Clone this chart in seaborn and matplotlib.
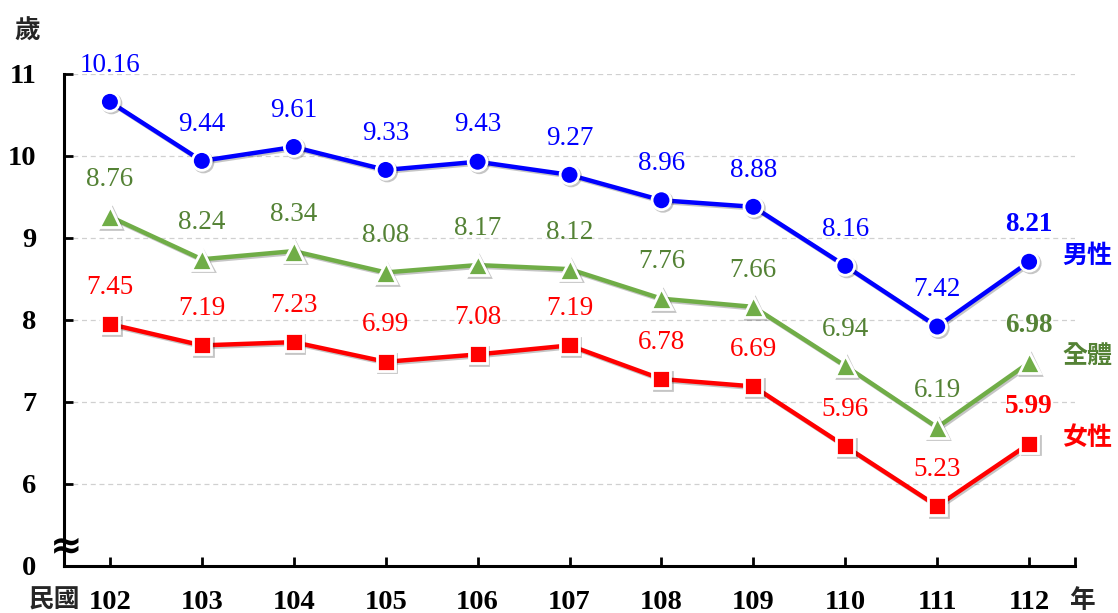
import matplotlib
matplotlib.use('Agg')
import matplotlib.pyplot as plt
import matplotlib.patheffects as pe
import seaborn as sns

# data
years = [102, 103, 104, 105, 106, 107, 108, 109, 110, 111, 112]
male = [10.16, 9.44, 9.61, 9.33, 9.43, 9.27, 8.96, 8.88, 8.16, 7.42, 8.21]
total = [8.76, 8.24, 8.34, 8.08, 8.17, 8.12, 7.76, 7.66, 6.94, 6.19, 6.98]
female = [7.45, 7.19, 7.23, 6.99, 7.08, 7.19, 6.78, 6.69, 5.96, 5.23, 5.99]
series_names = ['男性', '全體', '女性']
# the source axis is labelled half a unit off from the plotted values
y_tick_pos = [4.5, 5.5, 6.5, 7.5, 8.5, 9.5, 10.5]
y_tick_labels = ['0', '6', '7', '8', '9', '10', '11']

sns.set_theme(style='white')
plt.rcParams['font.family'] = ['Liberation Serif', 'Noto Sans CJK TC', 'DejaVu Sans']

fig = plt.figure(figsize=(11.18, 6.13), dpi=100)
ax = fig.add_axes([0.0572, 0.0767, 0.9044, 0.8026])

# grid lines
for y in y_tick_pos[1:]:
    ax.axhline(y, color='#d0d0d0', lw=0.9, ls=(0, (4, 3)), zorder=0)

shadow = [pe.SimpleLineShadow(offset=(1.2, -1.2), alpha=0.25), pe.Normal()]
styles = [
    (male, '#0000FF', '#0000FF', 'o', 13.5),
    (total, '#70AD47', '#548235', '^', 15),
    (female, '#FF0000', '#FF0000', 's', 13),
]
for (vals, lc, tc, mk, ms), name in zip(styles, series_names):
    sns.lineplot(x=years, y=vals, ax=ax, color=lc, linewidth=3.2, marker=mk,
                 markersize=ms, markeredgecolor='white', markeredgewidth=2,
                 path_effects=shadow, zorder=3)
    for i, (x, v) in enumerate(zip(years, vals)):
        last = i == len(years) - 1
        ax.annotate(f'{v:.2f}', (x, v), xytext=(0, 26.5), textcoords='offset points',
                    ha='center', va='center', fontsize=19.5, color=tc,
                    fontweight='bold' if last else 'normal', zorder=4)
    ax.annotate(name, (years[-1], vals[-1]), xytext=(24, 4), textcoords='offset points',
                ha='left', va='center', fontsize=18, color=tc, fontweight='bold',
                annotation_clip=False)

ax.set_xlim(101.5, 112.5)
ax.set_ylim(4.5, 10.5)
ax.set_xticks(years)
ax.set_xticklabels([str(y) for y in years])
ax.set_xticks([112.5], minor=True)
ax.set_yticks(y_tick_pos)
ax.set_yticklabels(y_tick_labels)

for s in ['top', 'right']:
    ax.spines[s].set_visible(False)
for s in ['left', 'bottom']:
    ax.spines[s].set_color('black')
    ax.spines[s].set_linewidth(2.2)

ax.tick_params(axis='both', which='both', direction='in', length=6.5, width=2,
               color='black', labelsize=20.5, labelcolor='black', left=True, bottom=True)
ax.tick_params(axis='x', pad=17)
ax.tick_params(axis='y', pad=20)
for lbl in ax.get_xticklabels() + ax.get_yticklabels():
    lbl.set_fontweight('bold')

# axis break mark
ax.text(0.002, 4.745, '≈', transform=ax.get_yaxis_transform(), ha='center', va='center',
        fontsize=28, fontweight='bold', family='DejaVu Sans', color='black',
        clip_on=False, zorder=5)

fig.text(0.024, 0.948, '歲', ha='center', va='center', fontsize=18.5, fontweight='bold')
fig.text(0.049, 0.020, '民國', ha='center', va='center', fontsize=18.5, fontweight='bold')
fig.text(0.968, 0.020, '年', ha='center', va='center', fontsize=18.5, fontweight='bold')

fig.savefig('out.png', dpi=100, facecolor='white')
